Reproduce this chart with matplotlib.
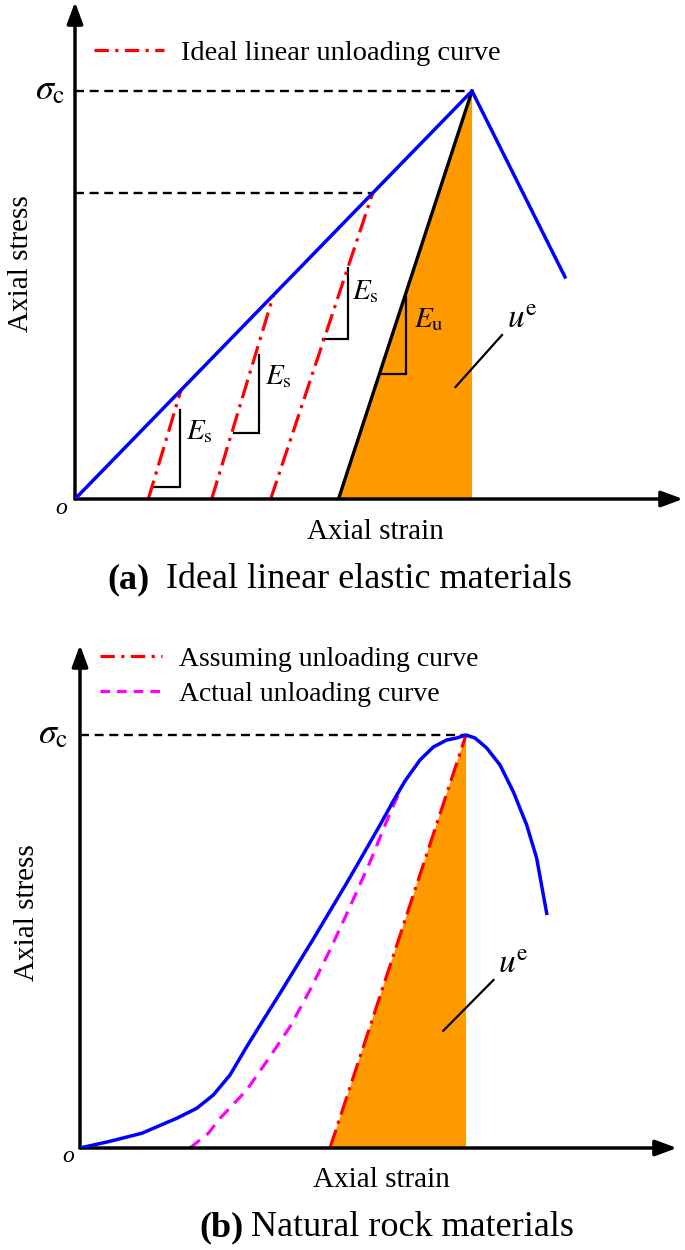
import numpy as np
import matplotlib
matplotlib.use("Agg")
import matplotlib.pyplot as plt
from matplotlib.lines import Line2D

plt.rcParams.update({"font.family": ["Liberation Serif", "DejaVu Serif"],
                     "mathtext.fontset": "stix"})

# ---- panel (a): ideal linear elastic (units arbitrary) ----
a_peak_strain, a_peak_stress = 3.97, 4.08
a_post_strain, a_post_stress = 4.90, 2.22
a_unload_stress = [1.09, 2.04, 3.06]        # points on loading line
a_residual = [0.733, 1.367, 1.957]           # strain left after unloading
a_elastic_residual = 2.635                   # black E_u line foot

# ---- panel (b): natural rock ----
b_strain = [0, 0.283, 0.617, 0.967, 1.167, 1.333, 1.50, 1.667, 1.833, 2.00,
            2.167, 2.333, 2.50, 2.667, 2.80, 3.00, 3.133, 3.25, 3.40, 3.533,
            3.667, 3.767, 3.86, 3.95, 4.067, 4.20, 4.333, 4.467, 4.567, 4.667]
b_stress = [0, 0.063, 0.147, 0.297, 0.397, 0.53, 0.73, 1.013, 1.28, 1.547,
            1.82, 2.09, 2.37, 2.65, 2.88, 3.23, 3.47, 3.67, 3.88, 4.01,
            4.08, 4.10, 4.13, 4.10, 4.00, 3.83, 3.563, 3.23, 2.897, 2.347]
b_actual_strain = [1.10, 1.283, 1.40, 1.517, 1.667, 1.90, 2.10, 2.30, 2.50,
                   2.70, 2.90, 3.08, 3.22]
b_actual_stress = [0, 0.147, 0.297, 0.42, 0.58, 0.913, 1.213, 1.58, 1.98,
                   2.413, 2.86, 3.30, 3.62]
b_peak_strain, b_peak_stress = 3.86, 4.13
b_residual = 2.50

BLUE, RED, MAG, ORANGE = "#0000FF", "#FF0000", "#FF00FF", "#FF9900"
DASHDOT = (0, (6, 2, 1, 2))
BLACKDASH = (0, (3.8, 2.4))
W, H = 685, 1250

fig = plt.figure(figsize=(6.85, 12.5), dpi=100)
fig.patch.set_facecolor("white")


def make_axes(ox, oy, xmax, ymax):
    # origin in pixels, 100 px per unit
    ax = fig.add_axes([ox / W, (H - oy) / H, xmax * 100 / W, ymax * 100 / H])
    ax.set_xlim(0, xmax)
    ax.set_ylim(0, ymax)
    ax.axis("off")
    return ax


def arrows(ax, xt, yt):
    ap = dict(arrowstyle="-|>,head_length=0.65,head_width=0.24", lw=2.5,
              color="black", shrinkA=0, shrinkB=0, mutation_scale=20)
    ax.annotate("", xy=(xt, 0), xytext=(0, 0), arrowprops=ap, annotation_clip=False)
    ax.annotate("", xy=(0, yt), xytext=(0, 0), arrowprops=ap, annotation_clip=False)


def slope_mark(ax, xv, ytop, ybot, xl, label, lx, ly):
    ax.plot([xv, xv, xl], [ytop, ybot, ybot], color="black", lw=1.6,
            solid_joinstyle="miter")
    ax.text(lx, ly, label, fontsize=21, ha="left", va="center")


def labels(ax, sx, sy, tx, ty, tag, tag_x, cap, cap_x, cap_y):
    ax.text(sx, sy, "Axial stress", fontsize=21, ha="center", va="center",
            rotation=90)
    ax.text(tx, ty, "Axial strain", fontsize=21, ha="center", va="center")
    ax.text(tag_x, cap_y, tag, fontsize=26, fontweight="bold", ha="left", va="center")
    ax.text(cap_x, cap_y, cap, fontsize=26, ha="left", va="center")


# ================= (a) =================
ax = make_axes(75, 499, 6.10, 4.99)
ax.fill([a_elastic_residual, a_peak_strain, a_peak_strain],
        [0, a_peak_stress, 0], color=ORANGE, lw=0, zorder=1)
ax.plot([a_elastic_residual, a_peak_strain], [0, a_peak_stress],
        color="black", lw=2.4, zorder=3)
ax.plot([0, a_peak_strain, a_post_strain], [0, a_peak_stress, a_post_stress],
        color=BLUE, lw=2.5, zorder=4)
for s, r in zip(a_unload_stress, a_residual):
    e = s * a_peak_strain / a_peak_stress
    ax.plot([r, e], [0, s], color=RED, lw=2.3, ls=DASHDOT, zorder=3)
ax.plot([0, a_peak_strain], [a_peak_stress] * 2, color="black", lw=1.7,
        ls=BLACKDASH, zorder=2)
lv = a_unload_stress[2]
ax.plot([0, lv * a_peak_strain / a_peak_stress], [lv, lv], color="black", lw=1.7,
        ls=BLACKDASH, zorder=2)

slope_mark(ax, 1.05, 0.89, 0.123, 0.783, r"$E_{\rm s}$", 1.11, 0.67)
slope_mark(ax, 1.843, 1.44, 0.657, 1.59, r"$E_{\rm s}$", 1.90, 1.22)
slope_mark(ax, 2.727, 2.307, 1.597, 2.483, r"$E_{\rm s}$", 2.77, 2.07)
slope_mark(ax, 3.31, 2.023, 1.25, 3.06, r"$E_{\rm u}$", 3.39, 1.79)
ax.plot([3.805, 4.27], [1.12, 1.64], color="black", lw=1.6)
ax.text(4.32, 1.80, r"$u^{\rm e}$", fontsize=24, ha="left", va="center")

arrows(ax, 6.08, 4.97)
ax.text(-0.10, a_peak_stress, r"$\sigma_{\rm c}$", fontsize=26, ha="right", va="center")
ax.text(-0.14, -0.09, "o", fontsize=17, style="italic", ha="center", va="center")
labels(ax, -0.54, 2.35, 3.0, -0.33, "(a)", 0.32,
       "Ideal linear elastic materials", 0.91, -0.81)
ax.legend([Line2D([], [], color=RED, lw=2.3, ls=(0, (4.5, 2, 1, 2)))],
          ["Ideal linear unloading curve"], loc="center left",
          bbox_to_anchor=(0.031, 0.894), frameon=False, fontsize=20.5,
          handlelength=2.46, handletextpad=0.6, borderpad=0, borderaxespad=0)

# ================= (b) =================
bx = make_axes(80, 1148, 6.05, 5.08)
bx.fill([b_residual, b_peak_strain, b_peak_strain], [0, b_peak_stress, 0],
        color=ORANGE, lw=0, zorder=1)
bx.plot(b_strain, b_stress, color=BLUE, lw=2.5, zorder=4,
        solid_joinstyle="round")
bx.plot(b_actual_strain, b_actual_stress, color=MAG, lw=2.3,
        ls=(0, (4, 2.6)), zorder=3)
bx.plot([b_residual, b_peak_strain], [0, b_peak_stress], color=RED, lw=2.3,
        ls=DASHDOT, zorder=3)
bx.plot([0, b_peak_strain], [b_peak_stress] * 2, color="black", lw=1.7,
        ls=BLACKDASH, zorder=2)
bx.plot([3.633, 4.135], [1.173, 1.68], color="black", lw=1.6)
bx.text(4.18, 1.84, r"$u^{\rm e}$", fontsize=24, ha="left", va="center")

arrows(bx, 5.97, 5.03)
bx.text(-0.12, b_peak_stress, r"$\sigma_{\rm c}$", fontsize=26, ha="right", va="center")
bx.text(-0.12, -0.09, "o", fontsize=17, style="italic", ha="center", va="center")
labels(bx, -0.53, 2.35, 3.01, -0.32, "(b)", 1.19,
       "Natural rock materials", 1.71, -0.80)
bx.legend([Line2D([], [], color=RED, lw=2.3, ls=(0, (4.5, 2, 1, 2))),
           Line2D([], [], color=MAG, lw=2.3, ls=(0, (3, 2.2)))],
          ["Assuming unloading curve", "Actual unloading curve"],
          loc="center left", bbox_to_anchor=(0.033, 0.928), frameon=False,
          fontsize=20, handlelength=2.25, handletextpad=0.6, labelspacing=0.35,
          borderpad=0, borderaxespad=0)

fig.savefig("out.png", dpi=100, facecolor="white")
